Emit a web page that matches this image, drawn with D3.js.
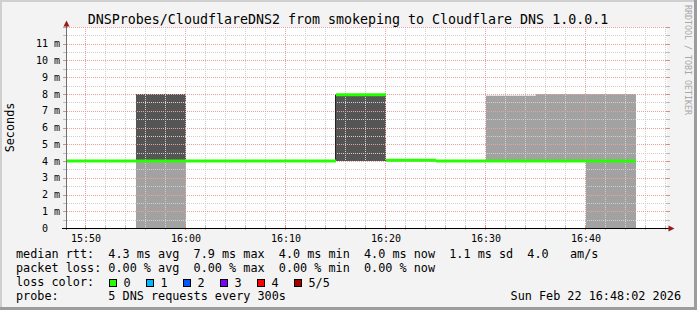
<!DOCTYPE html>
<html>
<head>
<meta charset="utf-8">
<script src="https://cdn.jsdelivr.net/npm/d3@7"></script>
<style>
  html, body { margin: 0; padding: 0; background: #f3f3f3; }
  svg text { font-family: "DejaVu Sans Mono", monospace; white-space: pre; }
</style>
</head>
<body>
<svg id="chart" width="697" height="310"></svg>
<script>
var TITLE = "DNSProbes/CloudflareDNS2 from smokeping to Cloudflare DNS 1.0.0.1",
    Y_LABEL = "Seconds",
    START = "15:48:02",
    END = "16:48:02",
    STEP_MIN = 5,

    // one entry per 300s slot, value in ms
    slotStart = ["15:45", "15:50", "15:55", "16:00", "16:05", "16:10",
                 "16:15", "16:20", "16:25", "16:30", "16:35", "16:40"],
    median  = [4.0, 4.0, 4.0, 4.0, 4.0, 4.0, 7.95, 4.05, 4.0, 4.0, 4.0, 4.0],
    darkLo  = [null, null, 4, null, null, null, 4, null, null, null, null, null],
    darkHi  = [null, null, 8, null, null, null, 7.95, null, null, null, null, null],
    lightLo = [null, null, 0, null, null, null, null, null, null, 4, 4, 0],
    lightHi = [null, null, 4, null, null, null, null, null, null, 7.9, 8.0, 8.0],

    yTicks = [0, 1, 2, 3, 4, 5, 6, 7, 8, 9, 10, 11],
    xTicks = ["15:50", "16:00", "16:10", "16:20", "16:30", "16:40"],

    lossColors = ["#26ff00", "#00b8ff", "#0059ff", "#7e00ff", "#ff0000", "#a10000"],
    lossLabels = ["0", "1", "2", "3", "4", "5/5"],

    legendLines = [
      "median rtt:  4.3 ms avg  7.9 ms max  4.0 ms min  4.0 ms now  1.1 ms sd  4.0   am/s",
      "packet loss: 0.00 % avg  0.00 % max  0.00 % min  0.00 % now",
      "loss color:",
      "probe:       5 DNS requests every 300s"
    ],
    STAMP = "Sun Feb 22 16:48:02 2026";

(function () {
  var svg = d3.select("#chart"),
      W = 697, H = 310,
      left = 67, right = 667, top = 27, bottom = 228,
      parseHM = d3.timeParse("%H:%M"),
      parseHMS = d3.timeParse("%H:%M:%S"),
      x = d3.scaleTime()
            .domain([parseHMS(START), parseHMS(END)])
            .range([66.33, 666.33]),
      y = d3.scaleLinear().domain([0, 12]).range([bottom, top]),
      slots = slotStart.map(function (s, i) {
        var t0 = parseHM(s);
        return {
          t0: t0,
          t1: d3.timeMinute.offset(t0, STEP_MIN),
          median: median[i],
          darkLo: darkLo[i], darkHi: darkHi[i],
          lightLo: lightLo[i], lightHi: lightHi[i]
        };
      }),
      minorX = d3.timeMinute.every(2).range(parseHMS(START), parseHMS(END)),
      minorY = d3.range(0.5, 12.01, 0.5),
      px = function (t) { return Math.round(x(t)) - 0.5; },
      cx = function (t) { return Math.max(left, Math.min(right, x(t))); };

  // canvas + shaded frame
  svg.append("rect").attr("width", W).attr("height", H).attr("fill", "#f3f3f3");
  svg.append("rect").attr("x", 0).attr("y", 0).attr("width", W).attr("height", 2).attr("fill", "#cfcfcf");
  svg.append("rect").attr("x", 0).attr("y", 0).attr("width", 2).attr("height", H).attr("fill", "#cfcfcf");
  svg.append("rect").attr("x", W - 3).attr("y", 0).attr("width", 3).attr("height", H).attr("fill", "#9c9c9c");
  svg.append("rect").attr("x", 0).attr("y", H - 3).attr("width", W).attr("height", 3).attr("fill", "#9c9c9c");

  // plot background
  svg.append("rect").attr("x", left).attr("y", top)
    .attr("width", right - left).attr("height", bottom - top)
    .attr("fill", "#ffffff");

  // smoke
  svg.append("g").attr("class", "light").selectAll("rect")
    .data(slots.filter(function (d) { return d.lightHi !== null; }))
    .enter().append("rect")
    .attr("x", function (d) { return cx(d.t0); })
    .attr("width", function (d) { return cx(d.t1) - cx(d.t0); })
    .attr("y", function (d) { return y(d.lightHi); })
    .attr("height", function (d) { return y(d.lightLo) - y(d.lightHi); })
    .attr("fill", "#a2a2a2");

  svg.append("g").attr("class", "dark").selectAll("rect")
    .data(slots.filter(function (d) { return d.darkHi !== null; }))
    .enter().append("rect")
    .attr("x", function (d) { return cx(d.t0); })
    .attr("width", function (d) { return cx(d.t1) - cx(d.t0); })
    .attr("y", function (d) { return y(d.darkHi); })
    .attr("height", function (d) { return y(d.darkLo) - y(d.darkHi); })
    .attr("fill", "#555555");

  // grid (drawn over the smoke, like rrdtool does)
  var grid = svg.append("g").attr("class", "grid").attr("stroke-dasharray", "1,1");
  grid.selectAll("line.vminor").data(minorX).enter().append("line")
    .attr("class", "vminor")
    .attr("x1", px).attr("x2", px)
    .attr("y1", top).attr("y2", bottom)
    .attr("stroke", function (d) { return d.getMinutes() % 10 === 0 ? "#e8a0a0" : "#cfcfcf"; });
  grid.selectAll("line.hminor").data(minorY).enter().append("line")
    .attr("class", "hminor")
    .attr("x1", left).attr("x2", right)
    .attr("y1", function (d) { return Math.round(y(d)) + 0.5; })
    .attr("y2", function (d) { return Math.round(y(d)) + 0.5; })
    .attr("stroke", function (d) { return d % 1 === 0 ? "#e8a0a0" : "#cfcfcf"; });

  // small ticks on the frame
  var ticks = svg.append("g").attr("class", "ticks");
  minorY.forEach(function (v) {
    var yy = Math.round(y(v)) + 0.5,
        c = v % 1 === 0 ? "#d09090" : "#bbbbbb";
    ticks.append("line").attr("x1", 63).attr("x2", 67).attr("y1", yy).attr("y2", yy).attr("stroke", c);
    ticks.append("line").attr("x1", right - 1).attr("x2", right + 3).attr("y1", yy).attr("y2", yy).attr("stroke", c);
  });
  minorX.forEach(function (t) {
    var xx = px(t),
        c = t.getMinutes() % 10 === 0 ? "#d09090" : "#bbbbbb";
    ticks.append("line").attr("x1", xx).attr("x2", xx).attr("y1", bottom - 2).attr("y2", bottom + 2).attr("stroke", c);
  });

  // edge of the second dark block
  svg.append("line")
    .attr("x1", cx(slots[6].t0) - 0.5).attr("x2", cx(slots[6].t0) - 0.5)
    .attr("y1", y(slots[6].darkHi)).attr("y2", y(slots[6].darkLo))
    .attr("stroke", "#222");

  // median line, one step per slot
  svg.append("g").attr("class", "median").selectAll("line")
    .data(slots).enter().append("line")
    .attr("x1", function (d) { return cx(d.t0); })
    .attr("x2", function (d) { return cx(d.t1); })
    .attr("y1", function (d) { return y(d.median); })
    .attr("y2", function (d) { return y(d.median); })
    .attr("stroke", lossColors[0])
    .attr("stroke-width", 3);

  // axes
  svg.append("line").attr("x1", 66.5).attr("x2", 66.5).attr("y1", bottom + 2).attr("y2", 24)
    .attr("stroke", "#707070");
  svg.append("path").attr("d", "M63.5,26.5 L66.5,20.5 L69.5,26.5 Z").attr("fill", "#9a1a1a");
  svg.append("line").attr("x1", 62).attr("x2", 670).attr("y1", bottom + 0.5).attr("y2", bottom + 0.5)
    .attr("stroke", "#000");
  svg.append("path").attr("d", "M668.5,225.5 L674.5,228.5 L668.5,231.5 Z").attr("fill", "#9a1a1a");

  // tick labels
  svg.append("g").selectAll("text").data(yTicks).enter().append("text")
    .attr("x", 60)
    .attr("y", function (d) { return y(d) + 3.5; })
    .attr("text-anchor", "end")
    .attr("font-size", 10)
    .attr("fill", "#000")
    .text(function (d) { return d === 0 ? "0  " : d + " m"; });

  svg.append("g").selectAll("text").data(xTicks).enter().append("text")
    .attr("x", function (d) { return x(parseHM(d)); })
    .attr("y", 242)
    .attr("text-anchor", "middle")
    .attr("font-size", 10)
    .attr("fill", "#000")
    .text(function (d) { return d; });

  // title and unit
  svg.append("text").attr("x", 348).attr("y", 24)
    .attr("text-anchor", "middle").attr("font-size", 13.3).attr("fill", "#000")
    .text(TITLE);
  svg.append("text")
    .attr("transform", "translate(14,127.5) rotate(-90)")
    .attr("text-anchor", "middle").attr("font-size", 11.8).attr("fill", "#000")
    .text(Y_LABEL);
  svg.append("text")
    .attr("transform", "translate(685,60) rotate(90)")
    .attr("text-anchor", "middle").attr("font-size", 8.3).attr("fill", "#a8a8a8")
    .text("RRDTOOL / TOBI OETIKER");

  // legend
  svg.append("g").selectAll("text").data(legendLines).enter().append("text")
    .attr("x", 16)
    .attr("y", function (d, i) { return 258 + i * 14; })
    .attr("font-size", 11.8)
    .attr("fill", "#000")
    .text(function (d) { return d; });

  var lossItems = svg.append("g").selectAll("g").data(lossLabels).enter().append("g")
    .attr("transform", function (d, i) { return "translate(" + (109 + i * 37) + ",279)"; });
  lossItems.append("rect")
    .attr("x", 0.5).attr("y", 0.5).attr("width", 7).attr("height", 7)
    .attr("fill", function (d, i) { return lossColors[i]; })
    .attr("stroke", "#000");
  lossItems.append("text")
    .attr("x", 14.5).attr("y", 7.5)
    .attr("font-size", 11.8).attr("fill", "#000")
    .text(function (d) { return d; });

  svg.append("text").attr("x", 681).attr("y", 300)
    .attr("text-anchor", "end").attr("font-size", 11.8).attr("fill", "#000")
    .text(STAMP);
}());
</script>
</body>
</html>
